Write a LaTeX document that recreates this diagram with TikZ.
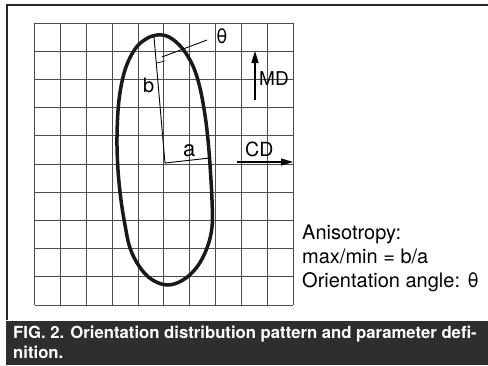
\documentclass[tikz,border=0pt]{standalone}
\usepackage{fontspec}
\setmainfont{TeX Gyre Heros}
\usetikzlibrary{arrows.meta}
\begin{document}
\begin{tikzpicture}[x=1pt,y=-1pt,
  gridline/.style={draw=black!70,line width=0.8pt},
  outline/.style={draw=black!90,line width=3.5pt},
  thinline/.style={draw=black,line width=0.9pt},
  axisarrow/.style={draw=black,line width=1.1pt,-{Triangle[length=12pt,width=7pt]}},
  lbl/.style={inner sep=0pt,anchor=base west,font=\fontsize{20}{20}\selectfont},
  axlbl/.style={inner sep=0pt,anchor=base west,font=\fontsize{19.5}{19.5}\selectfont},
  info/.style={inner sep=0pt,anchor=base west,font=\fontsize{20}{20}\selectfont},
  captext/.style={inner sep=0pt,anchor=base west,text=white,font=\bfseries\fontsize{16.7}{16.7}\selectfont}]
\useasboundingbox (0,0) rectangle (488,365);
% frame
\draw[line width=1.5pt,black!85] (7,320) -- (7,5) -- (488,5);
\fill[black!82] (6,321) rectangle (488,365);
% grid
\foreach \i in {0,...,10}{
  \draw[gridline] ({34.5+\i*25.85},23) -- ({34.5+\i*25.85},305);
  \draw[gridline] (34.5,{23+\i*28.2}) -- (293,{23+\i*28.2});
}
% outline
\draw[outline] plot[smooth cycle,tension=0.6] coordinates {
 (157,35) (146,39) (135,49) (125,70) (119,100) (117,137) (118,170) (121,200)
 (125,225) (130,248) (139,266) (151,279) (167,285) (183,280) (197,267)
 (207,248) (212,227) (212,200) (210,165) (208,140) (205,115) (200,88)
 (193,66) (182,48) (169,37)};
% axes lines
\coordinate (T) at (154,37);
\coordinate (O) at (165,163);
\coordinate (A) at (210,158);
\draw[thinline] (T) -- (O) -- (A);
\coordinate (L1) at (162,57);
\coordinate (L2) at (207,40);
\draw[thinline] (L1) -- (L2);
\draw[thinline,line width=0.7pt] (T) ++(85:26) arc[start angle=85,end angle=66,radius=26];
% labels
\node[lbl] (b) at (143,92) {b};
\node[lbl,font=\fontsize{22}{22}\selectfont] (a) at (183,156) {a};
\node[lbl] (th) at (216,43) {θ};
% direction arrows
\coordinate (CDs) at (237,162);
\coordinate (CDe) at (293,162);
\draw[axisarrow] (CDs) -- (CDe);
\node[axlbl] (CD) at (245,156) {CD};
\coordinate (MDs) at (255,100);
\coordinate (MDe) at (255,51);
\draw[axisarrow] (MDs) -- (MDe);
\node[axlbl,font=\fontsize{19}{19}\selectfont] (MD) at (259,85) {MD};
% info text
\node[info] (t1) at (302,239) {Anisotropy:};
\node[info] (t2) at (302,263) {max/min = b/a};
\node[info] (t3) at (302,287) {Orientation angle: θ};
% caption
\node[captext] (c1) at (13,338) {FIG. 2. Orientation distribution pattern and parameter defi-};
\node[captext] (c2) at (13,358) {nition.};
\end{tikzpicture}
\end{document}
